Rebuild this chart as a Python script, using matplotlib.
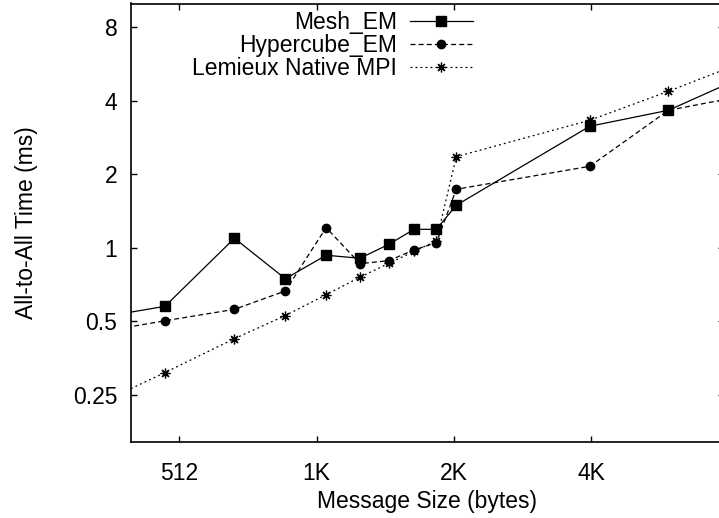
import matplotlib
matplotlib.use("Agg")
import matplotlib.pyplot as plt
from matplotlib.ticker import FixedLocator, FixedFormatter, NullLocator

plt.rcParams['font.family'] = ['Liberation Sans', 'DejaVu Sans']

# message sizes (bytes); first and last points sit just outside the visible range
sizes = [272, 476, 676, 874, 1074, 1274, 1474, 1674, 1874, 2072, 4064, 6048, 8072]

mesh_em = [0.482, 0.575, 1.093, 0.746, 0.931, 0.905, 1.032, 1.189, 1.189, 1.492, 3.142, 3.654, 4.65]
hypercube_em = [0.419, 0.502, 0.559, 0.665, 1.208, 0.860, 0.885, 0.979, 1.048, 1.735, 2.154, 3.654, 4.05]
lemieux_mpi = [0.188, 0.308, 0.424, 0.527, 0.642, 0.757, 0.863, 0.965, 1.068, 2.359, 3.325, 4.371, 5.39]

x_ticks = [512, 1024, 2048, 4096]
x_labels = ["512", "1K", "2K", "4K"]
y_ticks = [0.25, 0.5, 1, 2, 4, 8]
y_labels = ["0.25", "0.5", "1", "2", "4", "8"]

W, H = 719, 518
fig = plt.figure(figsize=(W / 100, H / 100), dpi=100)
# axes box in pixels (the right edge runs slightly past the image, as in the source)
left, right, top, bottom = 130.5, 723.9, 3.5, 442.0
ax = fig.add_axes([left / W, 1 - bottom / H, (right - left) / W, (bottom - top) / H])

fs = 16.5
ax.plot(sizes, mesh_em, color='black', lw=0.9, ls='-', marker='s', ms=6.5,
        label="Mesh_EM")
ax.plot(sizes, hypercube_em, color='black', lw=0.9, ls=(0, (4, 2.5)), marker='o', ms=6,
        label="Hypercube_EM")
ax.plot(sizes, lemieux_mpi, color='black', lw=0.9, ls=(0, (1.5, 2.5)), marker=(8, 2, 0),
        ms=7, mew=0.9, label="Lemieux Native MPI")

ax.set_xscale('log', base=2)
ax.set_yscale('log', base=2)
ax.set_xlim(400, 8000)
ax.set_ylim(0.16, 10)

ax.xaxis.set_major_locator(FixedLocator(x_ticks))
ax.xaxis.set_major_formatter(FixedFormatter(x_labels))
ax.xaxis.set_minor_locator(NullLocator())
ax.yaxis.set_major_locator(FixedLocator(y_ticks))
ax.yaxis.set_major_formatter(FixedFormatter(y_labels))
ax.yaxis.set_minor_locator(NullLocator())

ax.tick_params(which='major', direction='in', length=4.5, width=1,
               top=True, right=True, labelsize=fs)
ax.tick_params(axis='x', pad=14.5)
ax.tick_params(axis='y', pad=9.5)
for s in ax.spines.values():
    s.set_linewidth(1.2)

ax.set_xlabel("Message Size (bytes)", fontsize=fs, labelpad=3.5)
ax.set_ylabel("All-to-All Time (ms)", fontsize=fs, labelpad=25)

ax.legend(loc='upper right', bbox_to_anchor=(473 / W, 1 - 11 / H),
          bbox_transform=fig.transFigure, frameon=False, markerfirst=False,
          fontsize=fs, handlelength=2.75, handletextpad=0.57, labelspacing=0.0,
          borderpad=0, borderaxespad=0)

fig.savefig("out.png", dpi=100)
